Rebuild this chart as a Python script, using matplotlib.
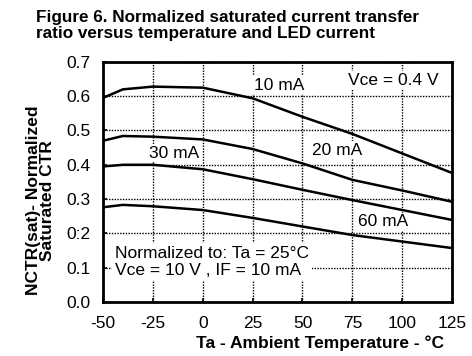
import matplotlib

matplotlib.use("Agg")
import matplotlib.pyplot as plt

plt.rcParams["font.family"] = ["Liberation Sans", "DejaVu Sans"]

# temperatures (°C) at which the curves were read
temps = [-50, -40, -25, 0, 25, 50, 75, 100, 125]

# normalized saturated CTR, one curve per LED current (top to bottom)
ctr_10ma = [0.595, 0.620, 0.628, 0.625, 0.594, 0.540, 0.490, 0.433, 0.376]
ctr_20ma = [0.470, 0.484, 0.482, 0.474, 0.446, 0.404, 0.356, 0.325, 0.292]
ctr_30ma = [0.395, 0.400, 0.400, 0.387, 0.358, 0.327, 0.297, 0.268, 0.239]
ctr_60ma = [0.276, 0.283, 0.279, 0.268, 0.245, 0.220, 0.195, 0.176, 0.157]

x_ticks = [-50, -25, 0, 25, 50, 75, 100, 125]
x_tick_labels = ["-50", "-25", "0", "25", "50", "75", "100", "125"]
y_ticks = [0.0, 0.1, 0.2, 0.3, 0.4, 0.5, 0.6, 0.7]
y_tick_labels = ["0.0", "0.1", "0:2", "0.3", "0.4", "0.5", "0.6", "0.7"]

FS = 12.5

fig = plt.figure(figsize=(4.72, 3.56), dpi=100)
ax = fig.add_axes([0.218, 0.152, 0.740, 0.674])

for series in (ctr_10ma, ctr_20ma, ctr_30ma, ctr_60ma):
    ax.plot(temps, series, color="black", linewidth=1.8, zorder=3)

ax.set_xlim(-50, 125)
ax.set_ylim(0.0, 0.7)
ax.set_xticks(x_ticks)
ax.set_xticklabels(x_tick_labels)
ax.set_yticks(y_ticks)
ax.set_yticklabels(y_tick_labels)
ax.tick_params(direction="in", length=3, width=1.2, labelsize=FS, pad=9)
ax.tick_params(axis="x", pad=10)
ax.grid(True, color="black", linestyle=(0, (1, 1)), linewidth=1.0)
for spine in ax.spines.values():
    spine.set_linewidth(2.0)

box = dict(facecolor="white", edgecolor="none", pad=1)
ax.text(25.5, 0.632, "10 mA", fontsize=FS, va="center", bbox=box, zorder=4)
ax.text(73, 0.647, "Vce = 0.4 V", fontsize=FS, va="center", bbox=box, zorder=4)
ax.text(55, 0.443, "20 mA", fontsize=FS, va="center", bbox=box, zorder=4)
ax.text(-27, 0.434, "30 mA", fontsize=FS, va="center", bbox=box, zorder=4)
ax.text(78, 0.234, "60 mA", fontsize=FS, va="center", bbox=box, zorder=4)
ax.text(-44, 0.116, "Normalized to: Ta = 25°C\nVce = 10 V , IF = 10 mA",
        fontsize=FS, va="center", linespacing=1.2,
        bbox=dict(facecolor="white", edgecolor="none", pad=2), zorder=4)

fig.text(0.076, 0.972, "Figure 6. Normalized saturated current transfer\n"
         "ratio versus temperature and LED current",
         fontsize=12.3, fontweight="bold", va="top", ha="left", linespacing=1.1)
fig.text(0.678, 0.037, "Ta - Ambient Temperature - °C",
         fontsize=FS, fontweight="bold", ha="center", va="center")
fig.text(0.085, 0.438, "NCTR(sat)- Normalized\nSaturated CTR",
         fontsize=FS, fontweight="bold", ha="center", va="center",
         rotation=90, linespacing=0.9)

fig.savefig("out.png", dpi=100)
